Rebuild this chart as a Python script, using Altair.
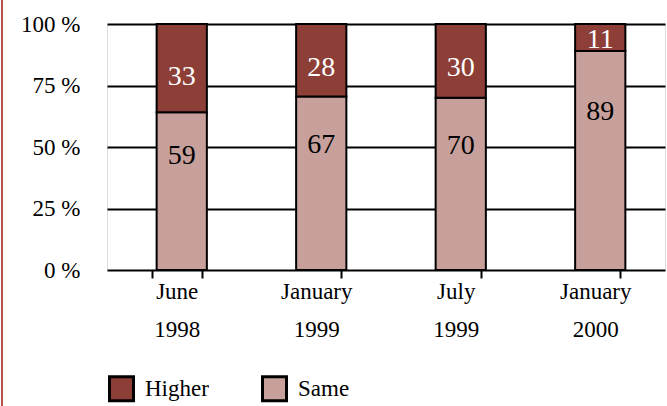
import altair as alt
import pandas as pd

periods = ["June 1998", "January 1999", "July 1999", "January 2000"]
higher = [33, 28, 30, 11]
same = [59, 67, 70, 89]
series = ["Higher", "Same"]
colors = ["#8C3E37", "#C7A09B"]

rows = []
for p, h, s in zip(periods, higher, same):
    tot = h + s
    sf = s / tot
    hf = h / tot
    rows.append({"period": p, "series": "Same", "value": s, "ord": 0,
                 "pos": 0.72 * sf})
    rows.append({"period": p, "series": "Higher", "value": h, "ord": 1,
                 "pos": sf + 0.4 * hf})
df = pd.DataFrame(rows)

FONT = "Liberation Serif"

xenc = alt.X("period:N", sort=periods, title=None,
             scale=alt.Scale(paddingInner=0.64, paddingOuter=0.32),
             axis=alt.Axis(labelExpr="split(datum.label, ' ')", labelAngle=0,
                           labelFont=FONT, labelFontSize=23, labelColor="black",
                           labelLineHeight=38, labelPadding=2,
                           tickBand="extent", tickSize=8, tickWidth=2,
                           tickColor="black", domain=False, grid=False))

bars = alt.Chart(df).mark_bar(stroke="black", strokeWidth=2, xOffset=5).encode(
    x=xenc,
    y=alt.Y("value:Q", stack="normalize", title=None,
            scale=alt.Scale(domain=[0, 1]),
            axis=alt.Axis(values=[0, 0.25, 0.5, 0.75, 1],
                          labelExpr="round(datum.value*100) + ' %'",
                          labelFont=FONT, labelFontSize=23, labelColor="black",
                          labelPadding=27, ticks=False, domain=False,
                          grid=True, gridColor="black", gridWidth=2)),
    color=alt.Color("series:N", scale=alt.Scale(domain=series, range=colors),
                    legend=alt.Legend(title=None, orient="none", legendX=1, legendY=351,
                                      direction="horizontal", symbolType="square",
                                      symbolSize=576, symbolStrokeColor="black",
                                      symbolStrokeWidth=3, labelFont=FONT,
                                      labelFontSize=23, labelColor="black",
                                      labelOffset=10, columnPadding=47)),
    order=alt.Order("ord:Q"),
)

txt_h = alt.Chart(df).transform_filter(alt.datum.series == "Higher").mark_text(
    font=FONT, fontSize=28, color="white", baseline="middle", xOffset=5).encode(
    x=alt.X("period:N", sort=periods), y=alt.Y("pos:Q"), text="value:Q")
txt_s = alt.Chart(df).transform_filter(alt.datum.series == "Same").mark_text(
    font=FONT, fontSize=28, color="black", baseline="middle", xOffset=5).encode(
    x=alt.X("period:N", sort=periods), y=alt.Y("pos:Q"), text="value:Q")

edge = alt.Chart(pd.DataFrame({"a": [0]})).mark_rule(color="#B5534A", strokeWidth=2).encode(
    x=alt.value(-105), y=alt.value(-24), y2=alt.value(382))

chart = alt.layer(bars, txt_h, txt_s, edge).properties(
    width=558, height=246,
    autosize=alt.AutoSizeParams(type="none"),
    padding={"left": 107, "top": 24, "right": 2, "bottom": 136},
).configure_view(stroke="black", strokeWidth=2).configure(background="white")

chart.save("out.html", embed_options={"renderer": "svg", "actions": False})
